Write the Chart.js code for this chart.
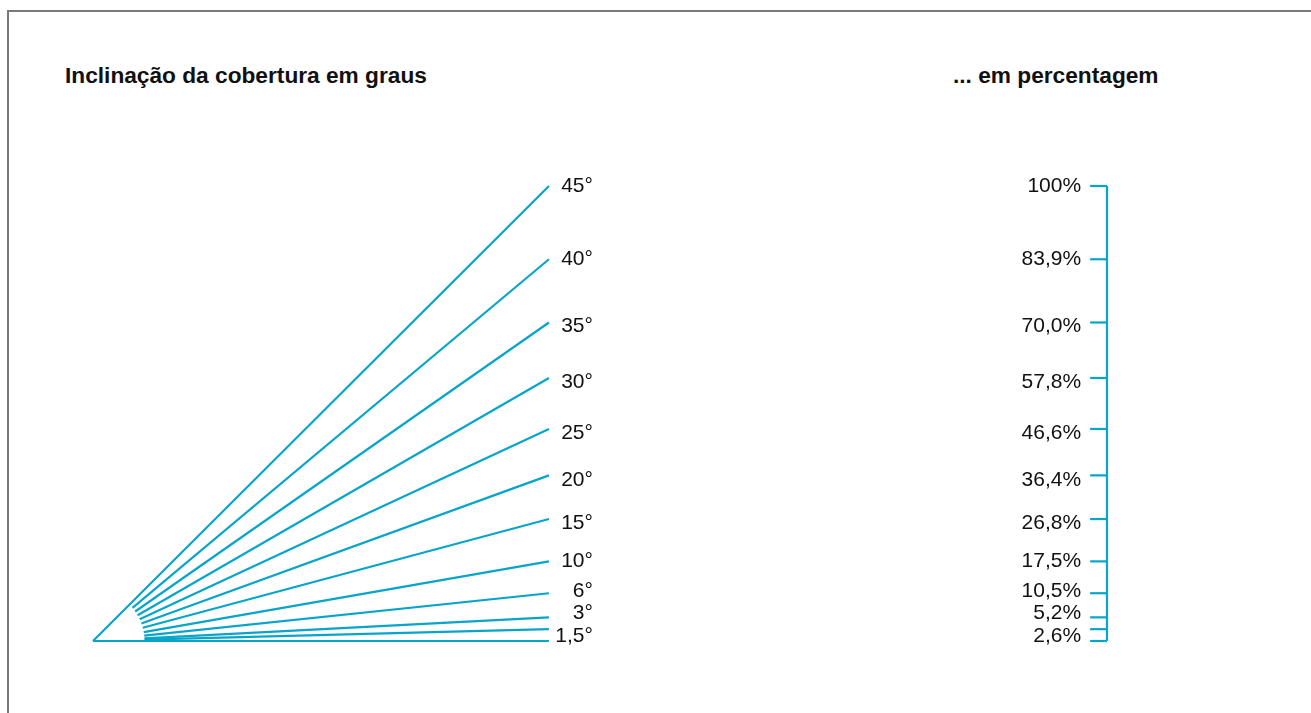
<!DOCTYPE html>
<html>
<head>
<meta charset="utf-8">
<script src="https://cdn.jsdelivr.net/npm/chart.js@4"></script>
<style>
  body { margin: 0; background: #fff; font-family: "Liberation Sans", Arial, sans-serif; }
  #wrap { position: relative; width: 1311px; height: 713px; overflow: hidden; }
  #frame { position: absolute; left: 7px; top: 10px; width: 1400px; height: 800px;
           border-top: 2px solid #7a7a7a; border-left: 2px solid #7a7a7a; }
  .head { position: absolute; top: 62px; font-weight: bold; font-size: 22.7px; color: #111; }
  canvas { position: absolute; left: 0; top: 0; }
</style>
</head>
<body>
<div id="wrap">
  <div id="frame"></div>
  <div class="head" style="left:65px">Inclinação da cobertura em graus</div>
  <div class="head" style="left:953px">... em percentagem</div>
  <canvas id="roof" width="1311" height="713"></canvas>
</div>
<script>
// roof pitch in degrees and the same pitch as a percentage (rise per 100 run)
const angleLabels = ['1,5°', '3°', '6°', '10°', '15°', '20°', '25°', '30°', '35°', '40°', '45°'];
const percentValues = [2.6, 5.2, 10.5, 17.5, 26.8, 36.4, 46.6, 57.8, 70.0, 83.9, 100];
const percentLabels = ['2,6%', '5,2%', '10,5%', '17,5%', '26,8%', '36,4%', '46,6%', '57,8%', '70,0%', '83,9%', '100%'];

const blue = '#08a5cb';
const run = 100;          // horizontal length of every pitch line
const startR = 11.3;      // pitch lines begin a little away from the corner
const axisX = 222.4;      // where the percentage scale sits
const tickLen = 3.7;

const datasets = [];

// base line (0°)
datasets.push({ data: [{x: 0, y: 0}, {x: run, y: 0}] });

percentValues.forEach(p => {
  const k = p / run;
  const r = p === 100 ? 0 : startR;
  const x0 = r / Math.sqrt(1 + k * k);
  datasets.push({ data: [{x: x0, y: x0 * k}, {x: run, y: p}] });
});

// percentage scale: spine and ticks
datasets.push({ data: [{x: axisX, y: 0}, {x: axisX, y: 100}] });
[0].concat(percentValues).forEach(p => {
  datasets.push({ data: [{x: axisX - tickLen, y: p}, {x: axisX, y: p}] });
});

datasets.forEach(d => {
  d.showLine = true;
  d.borderColor = blue;
  d.borderWidth = 2.2;
  d.pointRadius = 0;
  d.borderCapStyle = 'butt';
  d.clip = false;
});

// small vertical nudges so the crowded labels at the bottom don't collide
const nudge = [7, -4, -2, 0, 4, 5, 4, 4, 4, 0, 0];

const labelPlugin = {
  id: 'pitchLabels',
  afterDatasetsDraw(chart) {
    const {ctx, scales: {x, y}} = chart;
    ctx.save();
    ctx.font = '21px "Liberation Sans", Arial, sans-serif';
    ctx.fillStyle = '#111';
    ctx.textAlign = 'right';
    ctx.textBaseline = 'middle';
    const xa = x.getPixelForValue(run) + 44;
    const xp = x.getPixelForValue(axisX - tickLen) - 9;
    percentValues.forEach((p, i) => {
      const py = y.getPixelForValue(p) + nudge[i];
      ctx.fillText(angleLabels[i], xa, py);
      ctx.fillText(percentLabels[i], xp, py);
    });
    ctx.restore();
  }
};

new Chart(document.getElementById('roof'), {
  type: 'scatter',
  data: { datasets: datasets },
  options: {
    responsive: false,
    animation: false,
    layout: { padding: { left: 93, right: 204, top: 186, bottom: 72 } },
    scales: {
      x: { type: 'linear', min: 0, max: axisX, display: false },
      y: { type: 'linear', min: 0, max: 100, display: false }
    },
    plugins: { legend: { display: false }, tooltip: { enabled: false } }
  },
  plugins: [labelPlugin]
});
</script>
</body>
</html>
